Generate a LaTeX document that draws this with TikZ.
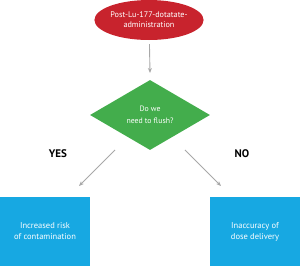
\documentclass[tikz,border=0pt]{standalone}
\usepackage{fontspec}
\setmainfont{PT Sans}
\usepackage{xcolor}
\usetikzlibrary{arrows.meta,shapes.geometric}
\definecolor{startred}{HTML}{C8232D}
\definecolor{askgreen}{HTML}{43AD4C}
\definecolor{outblue}{HTML}{17A8E2}
\definecolor{flowgray}{HTML}{A8A8A8}

\begin{document}
\begin{tikzpicture}[
  x=1pt,
  y=-1pt,
  every node/.style={font=\fontsize{8.2}{10}\selectfont, white, align=center},
  startnode/.style={ellipse, fill=startred, inner sep=0pt,
                    minimum width=98pt, minimum height=40pt},
  asknode/.style={diamond, fill=askgreen, inner sep=0pt,
                  minimum width=120pt, minimum height=70pt,
                  font=\fontsize{7.8}{11.5}\selectfont},
  outbox/.style={rectangle, fill=outblue, inner sep=0pt,
                 minimum width=90pt, minimum height=69pt,
                 font=\fontsize{8.5}{11}\selectfont},
  answer/.style={black, font=\fontsize{11}{13}\selectfont\bfseries},
  flow/.style={flowgray, line width=0.9pt,
               -{Stealth[length=5pt, width=4pt]}}
]
  \useasboundingbox (0,0) rectangle (300,266);

  %% ---- nodes -------------------------------------------------------------
  \node[startnode] (start) at (149,20) {Post-Lu-177-dotatate-\\administration};
  \node[asknode] (ask) at (150,115) {Do we\\need to flush?};
  \node[outbox] (yesbox) at (45,231.5) {Increased risk\\of contamination};
  \node[outbox] (nobox) at (255,231.5) {Inaccuracy of\\dose delivery};

  %% ---- answers -----------------------------------------------------------
  \node[answer] (yes) at (58,153.5) {YES};
  \node[answer] (no) at (242,153.5) {NO};

  %% ---- connectors --------------------------------------------------------
  \coordinate (askin) at (150,73);
  \coordinate (yesend) at (79,186);
  \coordinate (noend) at (221,186);

  \draw[flow, shorten <=4pt] (start) -- (askin);
  \draw[flow, shorten <=18pt] (ask) -- (yesend);
  \draw[flow, shorten <=18pt] (ask) -- (noend);
\end{tikzpicture}
\end{document}
